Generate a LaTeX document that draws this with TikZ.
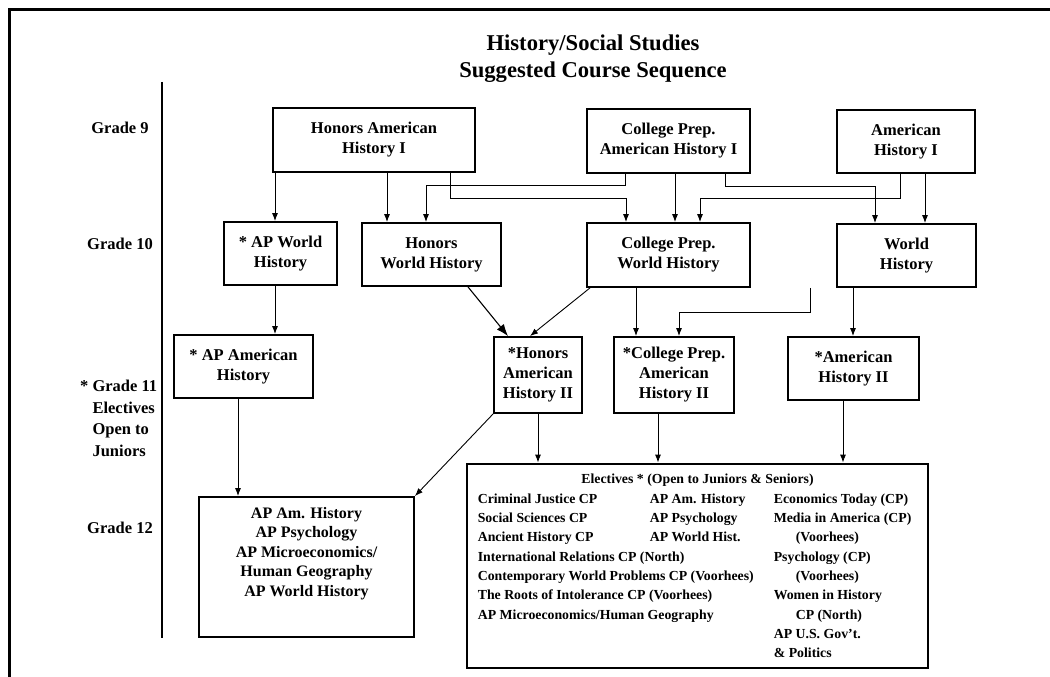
\documentclass[tikz,border=0pt]{standalone}
\usepackage{fontspec}
\setmainfont{Liberation Serif}
\usetikzlibrary{arrows.meta}

\newcommand{\ttlfont}{\fontsize{22.6}{27}\selectfont\bfseries}
\newcommand{\crsfont}{\fontsize{16.5}{20}\selectfont\bfseries}
\newcommand{\srfont}{\fontsize{16}{19.4}\selectfont\bfseries}
\newcommand{\elfont}{\fontsize{13.8}{19.3}\selectfont\bfseries}

\begin{document}
\begin{tikzpicture}[x=1pt,y=-1pt,
  course/.style={draw, line width=1.8pt, align=center, inner sep=0pt, font=\crsfont},
  grade/.style={align=center, inner sep=0pt, font=\crsfont},
  listing/.style={align=left, anchor=north west, inner sep=0pt, font=\elfont},
  link/.style={line width=0.9pt, -{Latex[length=8pt,width=6pt]}},
  biglink/.style={line width=1.1pt, -{Latex[length=12pt,width=9pt]}}]
\def\wFrame{3.5pt}
\def\wRule{1.2pt}
\def\wElec{2.8pt}
\useasboundingbox (0,0) rectangle (1050,677);
\draw[line width=\wFrame] (9.5,677) -- (9.5,9.5) -- (1050,9.5);
\node[align=center, anchor=north, inner sep=0pt, font=\ttlfont] (title) at (593,35)
  {History/Social Studies\\Suggested Course Sequence};
\draw[line width=\wRule] (162,82) -- (162,638);
% grades
\node[grade] (g9) at (120,127.6) {Grade 9};
\node[grade] (g10) at (120,243.7) {Grade 10};
\node[grade, align=left, anchor=north west, font={\fontsize{16.5}{21.5}\selectfont\bfseries}] (g11) at (80,380)
  {* Grade 11\\\phantom{* }Electives\\\phantom{* }Open to\\\phantom{* }Juniors};
\node[grade] (g12) at (120,528) {Grade 12};
% grade 9
\node[course, minimum width=202, minimum height=64] (hai) at (374,140) {Honors American\\History I};
\node[course, minimum width=163, minimum height=64] (cpai) at (668.5,141) {College Prep.\\American History I};
\node[course, minimum width=138, minimum height=63] (ahi) at (906,141.5) {American\\History I};
% grade 10
\node[course, minimum width=113, minimum height=63] (apwh) at (280.5,253.5) {* AP World\\History};
\node[course, minimum width=139, minimum height=63] (hwh) at (431.5,254.5) {Honors\\World History};
\node[course, minimum width=163, minimum height=64] (cpwh) at (668.5,255) {College Prep.\\World History};
\node[course, minimum width=139, minimum height=63] (wh) at (906.5,255.5) {World\\History};
% grade 11
\node[course, minimum width=139, minimum height=63] (apah) at (243.5,366.5) {* AP American\\History};
\node[course, minimum width=88, minimum height=76] (hahii) at (538,375) {*Honors\\American\\History II};
\node[course, minimum width=120, minimum height=76] (cpahii) at (674,375) {*College Prep.\\American\\History II};
\node[course, minimum width=131, minimum height=63] (ahii) at (853.5,368.5) {*American\\History II};
% grade 12
\node[course, minimum width=215, minimum height=140] (apsr) at (306.5,567) {};
\node[align=center, anchor=north, inner sep=0pt, font=\srfont] (apsrtxt) at ([yshift=-11pt]apsr.north)
  {AP Am. History\\AP Psychology\\AP Microeconomics/\\Human Geography\\AP World History};
\node[course, line width=\wElec, minimum width=461, minimum height=204] (elec) at (697.5,566) {};
\node[anchor=base, inner sep=0pt, font=\elfont] (elhead) at ([yshift=-20.5pt]elec.north)
  {Electives * (Open to Juniors \& Seniors)};
\node[listing] (elone) at ([xshift=12pt,yshift=-31pt]elec.north west)
  {Criminal Justice CP\\Social Sciences CP\\Ancient History CP\\International Relations CP (North)\\
   Contemporary World Problems CP (Voorhees)\\The Roots of Intolerance CP (Voorhees)\\AP Microeconomics/Human Geography};
\node[listing] (eltwo) at ([xshift=184pt,yshift=-31pt]elec.north west)
  {AP Am. History\\AP Psychology\\AP World Hist.};
\node[listing] (elthree) at ([xshift=308pt,yshift=-31pt]elec.north west)
  {Economics Today (CP)\\Media in America (CP)\\\hspace{22pt}(Voorhees)\\Psychology (CP)\\\hspace{22pt}(Voorhees)\\
   Women in History\\\hspace{22pt}CP (North)\\AP U.S. Gov't.\\\& Politics};
% grade 9 to grade 10
\draw[link] ([xshift=-99pt]hai.south) -- ([xshift=-5.5pt]apwh.north);
\draw[link] ([xshift=13pt]hai.south) -- ([xshift=-44.5pt]hwh.north);
\draw[link] ([xshift=76pt]hai.south) -- ++(0,26) -| ([xshift=-42.5pt]cpwh.north);
\draw[link] ([xshift=-43.5pt]cpai.south) -- ++(0,12) -| ([xshift=-5.5pt]hwh.north);
\draw[link] ([xshift=6.5pt]cpai.south) -- ([xshift=6.5pt]cpwh.north);
\draw[link] ([xshift=56.5pt]cpai.south) -- ++(0,13) -| ([xshift=-31.5pt]wh.north);
\draw[link] ([xshift=-6pt]ahi.south) -- ++(0,24.5) -| ([xshift=31.5pt]cpwh.north);
\draw[link] ([xshift=19pt]ahi.south) -- ([xshift=18.5pt]wh.north);
% grade 10 to grade 11
\draw[link] ([xshift=-5.5pt]apwh.south) -- ([xshift=31.5pt]apah.north);
\draw[biglink] ([xshift=36.5pt]hwh.south) -- ([xshift=-30pt]hahii.north);
\draw[link] ([xshift=-78.5pt]cpwh.south) -- ([xshift=-8pt]hahii.north);
\draw[link] ([xshift=-32.5pt]cpwh.south) -- ([xshift=-38pt]cpahii.north);
\draw[link] ([xshift=-96.5pt]wh.south) -- ++(0,25) -| ([xshift=5pt]cpahii.north);
\draw[link] ([xshift=-53.5pt]wh.south) -- ([xshift=-0.5pt]ahii.north);
% grade 11 to grade 12
\draw[link] ([xshift=-5.5pt]apah.south) -- ([xshift=-68.5pt]apsr.north);
\draw[link] (hahii.south west) -- (apsr.north east);
\draw[link] (hahii.south) -- ([xshift=-159.5pt]elec.north);
\draw[link] ([xshift=-16pt]cpahii.south) -- ([xshift=-39.5pt]elec.north);
\draw[link] ([xshift=-10.5pt]ahii.south) -- ([xshift=145.5pt]elec.north);
\end{tikzpicture}
\end{document}
